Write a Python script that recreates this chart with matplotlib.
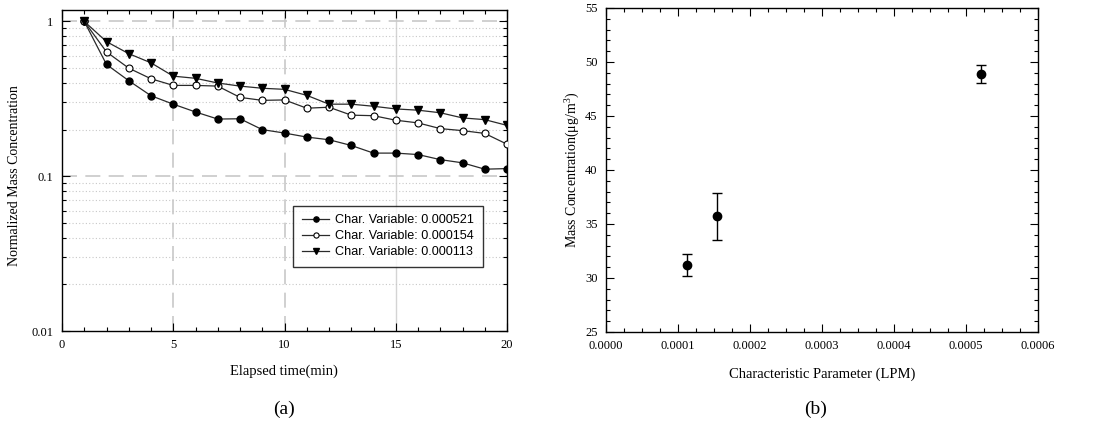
import matplotlib
matplotlib.use("Agg")
import matplotlib.pyplot as plt
from matplotlib.ticker import MultipleLocator, LogLocator, FixedFormatter, FixedLocator, NullFormatter

# panel (a): normalized mass concentration vs elapsed time
minutes = list(range(1, 21))
conc_521 = [1.0, 0.527, 0.414, 0.331, 0.292, 0.260, 0.234, 0.235, 0.200, 0.190,
            0.179, 0.172, 0.158, 0.141, 0.141, 0.138, 0.128, 0.122, 0.111, 0.112]
conc_154 = [1.0, 0.635, 0.499, 0.426, 0.386, 0.386, 0.382, 0.323, 0.309, 0.311,
            0.275, 0.279, 0.248, 0.246, 0.230, 0.221, 0.203, 0.197, 0.189, 0.161]
conc_113 = [1.0, 0.740, 0.619, 0.540, 0.443, 0.429, 0.400, 0.382, 0.370, 0.364,
            0.333, 0.292, 0.292, 0.283, 0.272, 0.267, 0.257, 0.238, 0.232, 0.213]
series_labels = ["Char. Variable: 0.000521", "Char. Variable: 0.000154",
                 "Char. Variable: 0.000113"]

# panel (b): mass concentration vs characteristic parameter
char_param = [0.000113, 0.000154, 0.000521]
mass_conc = [31.2, 35.7, 48.9]
mass_err = [1.0, 2.2, 0.8]

SERIF = ["Liberation Serif", "DejaVu Serif"]
SANS = ["Liberation Sans", "DejaVu Sans"]
W, H = 1095, 425

plt.rcParams["mathtext.fontset"] = "custom"
plt.rcParams["mathtext.rm"] = "Liberation Serif"
plt.rcParams["mathtext.it"] = "Liberation Serif:italic"

fig = plt.figure(figsize=(W / 100, H / 100), dpi=100)


def box(x0, y0, x1, y1):
    return [x0 / W, 1 - y1 / H, (x1 - x0) / W, (y1 - y0) / H]


# ---------- (a) ----------
ax = fig.add_axes(box(62, 10, 507, 331))
ax.set_yscale("log")
ax.set_xlim(0, 20)
ax.set_ylim(0.01, 1.185)

line_c = "#2a2a2a"
ax.plot(minutes, conc_521, color=line_c, lw=0.9, marker="o", ms=5,
        mfc="black", mec="black", label=series_labels[0], zorder=3)
ax.plot(minutes, conc_154, color=line_c, lw=0.9, marker="o", ms=5,
        mfc="white", mec="black", mew=0.8, label=series_labels[1], zorder=3)
ax.plot(minutes, conc_113, color=line_c, lw=0.9, marker="v", ms=6,
        mfc="black", mec="black", label=series_labels[2], zorder=3)

ax.xaxis.set_major_locator(MultipleLocator(5))
ax.xaxis.set_minor_locator(MultipleLocator(1))
ax.yaxis.set_major_locator(FixedLocator([0.01, 0.1, 1]))
ax.yaxis.set_major_formatter(FixedFormatter(["0.01", "0.1", "1"]))
ax.yaxis.set_minor_locator(LogLocator(base=10, subs=range(2, 10)))
ax.yaxis.set_minor_formatter(NullFormatter())
ax.tick_params(which="both", direction="in", top=True, right=True, width=0.8)
ax.tick_params(which="major", length=6, labelsize=9, pad=6)
ax.tick_params(which="minor", length=3)
for lab in ax.get_xticklabels() + ax.get_yticklabels():
    lab.set_family(SERIF)

for v in [5, 10]:
    ax.axvline(v, color="#c8c8c8", lw=1.2, ls=(0, (9, 5)), zorder=1)
ax.axvline(15, color="#d4d4d4", lw=1.0, zorder=1)
for v in [0.1, 1.0]:
    ax.axhline(v, color="#c8c8c8", lw=1.2, ls=(0, (9, 5)), zorder=1)
for dec in [0.01, 0.1]:
    for m in range(2, 10):
        ax.axhline(dec * m, color="#c8c8c8", lw=0.8, ls=(0, (1, 2)), zorder=1)
for s in ax.spines.values():
    s.set_linewidth(1.0)

leg = ax.legend(loc="lower right", bbox_to_anchor=(0.96, 0.18), frameon=True,
                fancybox=False, edgecolor="black", handlelength=2.1,
                borderpad=0.7, labelspacing=0.3, handletextpad=0.5,
                prop={"family": SANS, "size": 9.1}, markerscale=0.75)
leg.get_frame().set_linewidth(1.0)

fig.text(15 / W, 1 - 176 / H, "Normalized Mass Concentration", rotation=90,
         ha="center", va="center", family=SERIF, fontsize=10)
fig.text(284 / W, 1 - 371 / H, "Elapsed time(min)", ha="center", va="center",
         family=SERIF, fontsize=10.5)
fig.text(284 / W, 1 - 409 / H, "(a)", ha="center", va="center",
         family=SERIF, fontsize=14)

# ---------- (b) ----------
bx = fig.add_axes(box(606, 8, 1038, 332))
bx.errorbar(char_param, mass_conc, yerr=mass_err, fmt="o", color="black",
            ms=6, elinewidth=1.0, capsize=3.5, capthick=1.0)
bx.set_xlim(0, 0.0006)
bx.set_ylim(25, 55)
bx.xaxis.set_minor_locator(MultipleLocator(0.000025))
bx.yaxis.set_major_locator(MultipleLocator(5))
bx.yaxis.set_minor_locator(MultipleLocator(1))
bx.set_xticks([0, 0.0001, 0.0002, 0.0003, 0.0004, 0.0005, 0.0006])
bx.set_xticklabels(["0.0000", "0.0001", "0.0002", "0.0003", "0.0004", "0.0005", "0.0006"])
bx.tick_params(which="both", direction="in", top=True, right=True, width=0.8)
bx.tick_params(which="major", length=6, labelsize=9, pad=6)
bx.tick_params(which="minor", length=3)
for lab in bx.get_xticklabels() + bx.get_yticklabels():
    lab.set_family(SERIF)
for s in bx.spines.values():
    s.set_linewidth(1.0)

fig.text(573 / W, 1 - 170 / H, "Mass Concentration(\u03bcg/m$^{3}$)", rotation=90,
         ha="center", va="center", family=SERIF, fontsize=10)
fig.text(822 / W, 1 - 374 / H, "Characteristic Parameter (LPM)", ha="center",
         va="center", family=SERIF, fontsize=10.5)
fig.text(816 / W, 1 - 409 / H, "(b)", ha="center", va="center",
         family=SERIF, fontsize=14)

fig.savefig("out.png", dpi=100)
